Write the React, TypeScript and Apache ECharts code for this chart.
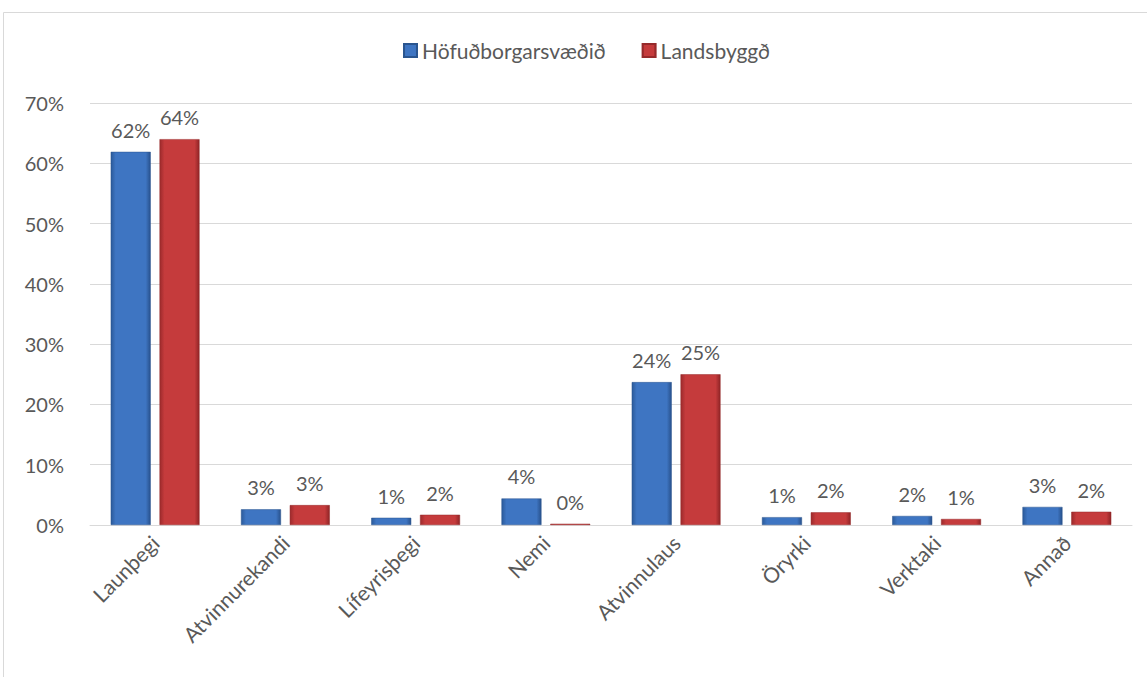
import React, { useEffect, useRef } from "react";
import * as echarts from "echarts";

const categories = ["Launþegi", "Atvinnurekandi", "Lífeyrisþegi", "Nemi", "Atvinnulaus", "Öryrki", "Verktaki", "Annað"];
const seriesNames = ["Höfuðborgarsvæðið", "Landsbyggð"];
const capital = [61.9, 2.6, 1.2, 4.4, 23.7, 1.3, 1.5, 3.0];
const rural = [64.0, 3.3, 1.7, 0.2, 25.0, 2.1, 1.0, 2.2];

const FONT = "Lato, 'Open Sans', sans-serif";
const TXT = "#595959";

function grad(c0: string, c1: string, c2: string) {
  return new echarts.graphic.LinearGradient(0, 0, 1, 0, [
    { offset: 0, color: c0 },
    { offset: 0.12, color: c1 },
    { offset: 0.88, color: c1 },
    { offset: 1, color: c2 },
  ]);
}

export default function App() {
  const ref = useRef<HTMLDivElement>(null);
  useEffect(() => {
    if (!ref.current) return;
    const chart = echarts.init(ref.current, undefined, { renderer: "svg" });
    const label = {
      show: true,
      position: "top" as const,
      distance: 12,
      fontFamily: FONT,
      fontSize: 20,
      color: TXT,
      formatter: (p: any) => Math.round(p.value) + "%",
    };
    chart.setOption({
      animation: false,
      backgroundColor: "#ffffff",
      graphic: [
        {
          type: "rect",
          shape: { x: 3.5, y: 12.5, width: 1160, height: 700 },
          style: { fill: "none", stroke: "#d9d9d9", lineWidth: 1 },
          silent: true,
        },
      ],
      legend: {
        top: 35,
        left: 398,
        itemWidth: 13,
        itemHeight: 13,
        itemGap: 36,
        icon: "rect",
        textStyle: { fontFamily: FONT, fontSize: 21, color: TXT },
        data: seriesNames,
      },
      grid: { left: 90, right: 15, top: 103, bottom: 152, containLabel: false },
      xAxis: {
        type: "category",
        data: categories,
        axisLine: { show: true, lineStyle: { color: "#d9d9d9" } },
        axisTick: { show: false },
        axisLabel: {
          rotate: 45,
          interval: 0,
          margin: 14,
          fontFamily: FONT,
          fontSize: 21,
          color: TXT,
        },
      },
      yAxis: {
        type: "value",
        min: 0,
        max: 70,
        interval: 10,
        axisLine: { show: false },
        axisTick: { show: false },
        axisLabel: {
          formatter: "{value}%",
          fontFamily: FONT,
          fontSize: 20,
          color: TXT,
          margin: 26,
        },
        splitLine: { lineStyle: { color: "#d9d9d9" } },
      },
      series: [
        {
          name: seriesNames[0],
          type: "bar",
          data: capital,
          barWidth: 40,
          barGap: "22%",
          itemStyle: { color: grad("#2b5a9a", "#3e75c2", "#28518c"), borderColor: "#2a558f", borderWidth: 0.5 },
          label,
        },
        {
          name: seriesNames[1],
          type: "bar",
          data: rural,
          barWidth: 40,
          itemStyle: { color: grad("#9c2a2c", "#c53b3c", "#8f2426"), borderColor: "#962a2b", borderWidth: 0.5 },
          label,
        },
      ],
    });
    return () => chart.dispose();
  }, []);
  return (
    <div
      ref={ref}
      style={{ position: "absolute", left: 0, top: 0, width: 1147, height: 677 }}
    />
  );
}
